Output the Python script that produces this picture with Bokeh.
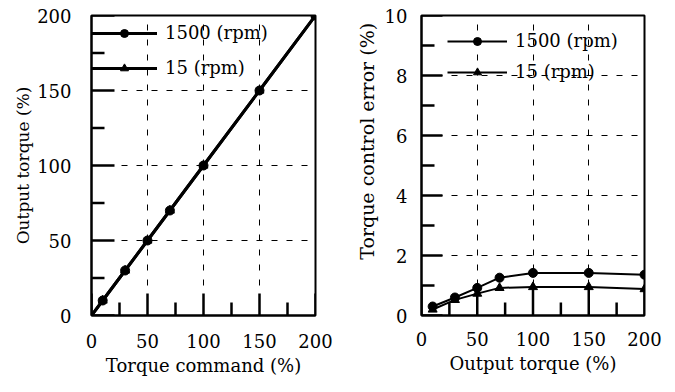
import math
from bokeh.plotting import figure
from bokeh.layouts import row
from bokeh.models import FixedTicker, Legend, LegendItem
from bokeh.embed import file_html
from bokeh.resources import INLINE

# ---- data ----
cmd_x = [0, 10, 30, 50, 70, 100, 150, 200]
out_1500 = [0, 10, 30, 50, 70, 100, 150, 200]
out_15 = [0, 10, 30, 50, 70, 100, 150, 200]

err_x = [10, 30, 50, 70, 100, 150, 200]
err_1500 = [0.3, 0.6, 0.92, 1.26, 1.42, 1.42, 1.36]
err_15 = [0.2, 0.52, 0.73, 0.92, 0.95, 0.95, 0.88]

x_ticks = [0, 50, 100, 150, 200]
x_minor = [25, 75, 125, 175]
y1_ticks = [0, 50, 100, 150, 200]
y1_minor = [25, 75, 125, 175]
y2_ticks = [0, 2, 4, 6, 8, 10]
y2_minor = [1, 3, 5, 7, 9]
labels = ["1500 (rpm)", "15 (rpm)"]

FONT = "DejaVu Serif"
NB = "\u00a0"


def style(p, xt, xm, yt, ym, xstand, ystand, xmaj_len, ymaj_len):
    p.outline_line_color = "black"
    p.outline_line_width = 2
    p.xaxis.ticker = FixedTicker(ticks=xt, minor_ticks=[])
    p.yaxis.ticker = FixedTicker(ticks=yt, minor_ticks=[])
    for ax in (p.xaxis[0], p.yaxis[0]):
        ax.axis_line_color = "black"
        ax.axis_line_width = 2
        ax.major_tick_in = 0
        ax.major_tick_out = 0
        ax.minor_tick_in = 0
        ax.minor_tick_out = 0
        ax.major_label_text_font = FONT
        ax.major_label_text_font_size = "18px"
        ax.major_label_text_color = "black"
        ax.axis_label_text_font = FONT
        ax.axis_label_text_font_size = "18px"
        ax.axis_label_text_font_style = "normal"
        ax.axis_label_text_color = "black"
        ax.axis_label_standoff = 1
    p.xaxis.major_label_standoff = xstand
    p.xaxis.axis_label_standoff = 4
    p.yaxis.major_label_standoff = ystand
    p.xgrid.ticker = FixedTicker(ticks=xt[1:-1])
    p.ygrid.ticker = FixedTicker(ticks=yt[1:-1])
    for g in (p.xgrid[0], p.ygrid[0]):
        g.grid_line_color = "black"
        g.grid_line_width = 1
        g.grid_line_dash = "6 9"
    # inward tick marks drawn as short rays from the axes
    y0 = p.y_range.start
    x0 = p.x_range.start
    p.ray(x=[x0] * len(yt), y=yt, length=ymaj_len, length_units="screen", angle=0,
          line_color="black", line_width=2.5)
    p.ray(x=[x0] * len(ym), y=ym, length=13, length_units="screen", angle=0,
          line_color="black", line_width=2.5)
    p.ray(x=xt, y=[y0] * len(xt), length=xmaj_len, length_units="screen", angle=math.pi / 2,
          line_color="black", line_width=2.5)
    p.ray(x=xm, y=[y0] * len(xm), length=13, length_units="screen", angle=math.pi / 2,
          line_color="black", line_width=2.5)


# ---- left figure ----
p1 = figure(width=340, height=392, x_range=(0, 200), y_range=(0, 200),
            output_backend="svg", toolbar_location=None,
            min_border_left=91, min_border_right=25, min_border_top=14, min_border_bottom=77,
            x_axis_label="Torque command (%)", y_axis_label="Output torque (%)")
style(p1, x_ticks, x_minor, y1_ticks, y1_minor, 18, 20, 22, 23)
p1.yaxis.axis_label_text_font_size = "17px"
l1a = p1.line(cmd_x, out_1500, line_color="black", line_width=3)
m1a = p1.scatter(cmd_x[1:], out_1500[1:], marker="circle", size=9, color="black")
l1b = p1.line(cmd_x, out_15, line_color="black", line_width=3)
m1b = p1.scatter(cmd_x[1:], out_15[1:], marker="triangle", size=9, color="black")
leg1 = Legend(items=[LegendItem(label=labels[0], renderers=[l1a, m1a]),
                     LegendItem(label=labels[1], renderers=[l1b, m1b])],
              location=(0, 237), margin=0, padding=0, spacing=14,
              glyph_width=66, glyph_height=20, label_height=20, label_standoff=8,
              label_text_font=FONT, label_text_font_size="18px", label_text_color="black",
              border_line_alpha=0, background_fill_alpha=0)
p1.add_layout(leg1, "center")

# ---- right figure ----
p2 = figure(width=335, height=392, x_range=(0, 200), y_range=(0, 10),
            output_backend="svg", toolbar_location=None,
            min_border_left=81, min_border_right=31, min_border_top=15, min_border_bottom=71,
            x_axis_label="Output torque (%)",
            y_axis_label=NB * 8 + "Torque control error (%)")
style(p2, x_ticks, x_minor, y2_ticks, y2_minor, 16, 14, 30, 21)
p2.yaxis.axis_label_text_font_size = "19px"
p2.yaxis.axis_label_standoff = 4
l2a = p2.line(err_x, err_1500, line_color="black", line_width=2)
m2a = p2.scatter(err_x, err_1500, marker="circle", size=9, color="black")
l2b = p2.line(err_x, err_15, line_color="black", line_width=2)
m2b = p2.scatter(err_x, err_15, marker="triangle", size=9, color="black")
leg2 = Legend(items=[LegendItem(label=labels[0], renderers=[l2a, m2a]),
                     LegendItem(label=labels[1], renderers=[l2b, m2b])],
              location=(26, 233), margin=0, padding=0, spacing=10,
              glyph_width=60, glyph_height=20, label_height=20, label_standoff=8,
              label_text_font=FONT, label_text_font_size="18px", label_text_color="black",
              border_line_alpha=0, background_fill_alpha=0)
p2.add_layout(leg2, "center")

layout = row(p1, p2)
open("out.html", "w").write(file_html(layout, INLINE))
